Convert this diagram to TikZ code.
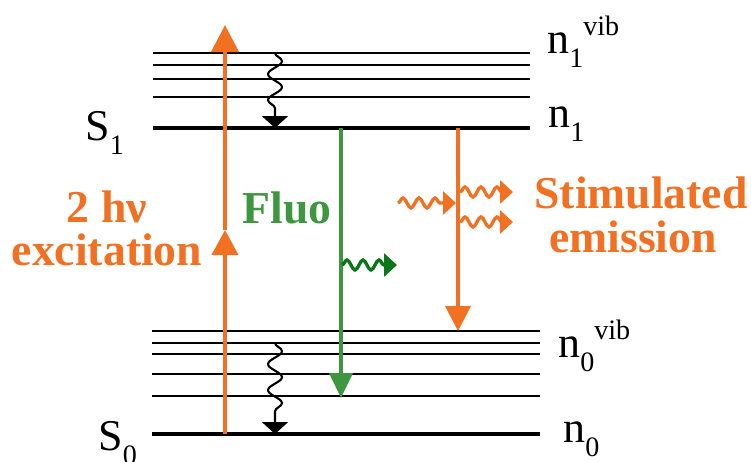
\documentclass[tikz,border=0pt]{standalone}
\usepackage{fontspec}
\setmainfont{Liberation Serif}
\usetikzlibrary{arrows.meta,decorations.pathmorphing,positioning}
\definecolor{pumporange}{RGB}{241,112,34}
\definecolor{fluogreen}{RGB}{62,150,62}
\definecolor{wavegreen}{RGB}{10,118,24}
\newcommand\lsub[1]{\raisebox{-0.32em}{\fontsize{16}{16}\selectfont #1}}
\newcommand\lsup[1]{\raisebox{0.4em}{\fontsize{16}{16}\selectfont #1}}
\tikzset{
  level/.style={line width=1.1pt},
  ground/.style={line width=1.8pt},
  statelabel/.style={inner sep=0pt, anchor=base west,
    font=\fontsize{25}{25}\selectfont},
  biglabel/.style={inner sep=0pt, anchor=base,
    font=\fontsize{26}{26}\selectfont\bfseries},
  pump/.style={pumporange, line width=2.3pt},
  fluo/.style={fluogreen, line width=2.3pt},
  relax/.style={line width=1.2pt, decorate,
    decoration={snake, amplitude=0.14cm, segment length=0.52cm, post length=0.3cm},
    -{Triangle[width=0.52cm,length=0.24cm]}},
  photon/.style={line width=1.9pt, decorate,
    decoration={snake, amplitude=0.1cm, segment length=0.32cm, post length=0.2cm},
    -{Triangle[width=0.46cm,length=0.26cm]}}
}
\begin{document}
\begin{tikzpicture}[x=0.02cm,y=-0.02cm]
  \useasboundingbox (0,0) rectangle (751,461);

  % S1 manifold
  \foreach \y in {53,65,79,97}
    \draw[level] (153,\y) -- (530,\y);
  \draw[ground] (153,128) -- (530,128);

  % S0 manifold
  \foreach \y in {331,343,354,374,396}
    \draw[level] (152,\y) -- (540,\y);
  \draw[ground] (152,434) -- (540,434);

  % state labels
  \node[statelabel] (sone) at (85,140) {S\lsub{1}};
  \node[statelabel] (szero) at (98,450) {S\lsub{0}};
  \node[statelabel] (nonevib) at (547,53) {n\lsub{1}\lsup{vib}};
  \node[statelabel] (none) at (548,127) {n\lsub{1}};
  \node[statelabel] (nzerovib) at (558,357) {n\lsub{0}\lsup{vib}};
  \node[statelabel] (nzero) at (563,442) {n\lsub{0}};

  % two photon excitation
  \coordinate (exstart) at (225,434);
  \coordinate (exmid) at (225,230);
  \coordinate (exend) at (225,25);
  \draw[pump, -{Triangle[width=0.52cm,length=0.5cm]}] (exstart) -- (exmid);
  \draw[pump, -{Triangle[width=0.54cm,length=0.54cm]}] (exmid) -- (exend);
  \node[biglabel, pumporange] (twohv) at (107,222) {2 hν};
  \node[biglabel, pumporange] (excit) at (107,265) {excitation};

  % fluorescence
  \coordinate (flstart) at (341,128);
  \coordinate (flend) at (341,398);
  \draw[fluo, -{Triangle[width=0.46cm,length=0.5cm]}] (flstart) -- (flend);
  \node[biglabel, fluogreen] (fluo) at (287,223) {Fluo};
  \coordinate (flwavein) at (342,265);
  \coordinate (flwaveout) at (397,265);
  \draw[photon, wavegreen] (flwavein) -- (flwaveout);

  % stimulated emission
  \coordinate (ststart) at (458,128);
  \coordinate (stend) at (458,331);
  \draw[pump, -{Triangle[width=0.5cm,length=0.5cm]}] (ststart) -- (stend);
  \coordinate (inwavea) at (398,203);
  \coordinate (inwaveb) at (456,203);
  \coordinate (outwavea) at (460,192);
  \coordinate (outwaveb) at (513,192);
  \coordinate (outwavec) at (460,222);
  \coordinate (outwaved) at (513,222);
  \draw[photon, pumporange] (inwavea) -- (inwaveb);
  \draw[photon, pumporange] (outwavea) -- (outwaveb);
  \draw[photon, pumporange] (outwavec) -- (outwaved);
  \node[biglabel, pumporange] (stim) at (641,208) {Stimulated};
  \node[biglabel, pumporange] (emis) at (633,252) {emission};

  % vibrational relaxation
  \coordinate (relaxa) at (275,53);
  \coordinate (relaxb) at (275,128);
  \coordinate (relaxc) at (275,343);
  \coordinate (relaxd) at (275,434);
  \draw[relax] (relaxa) -- (relaxb);
  \draw[relax] (relaxc) -- (relaxd);
\end{tikzpicture}
\end{document}
